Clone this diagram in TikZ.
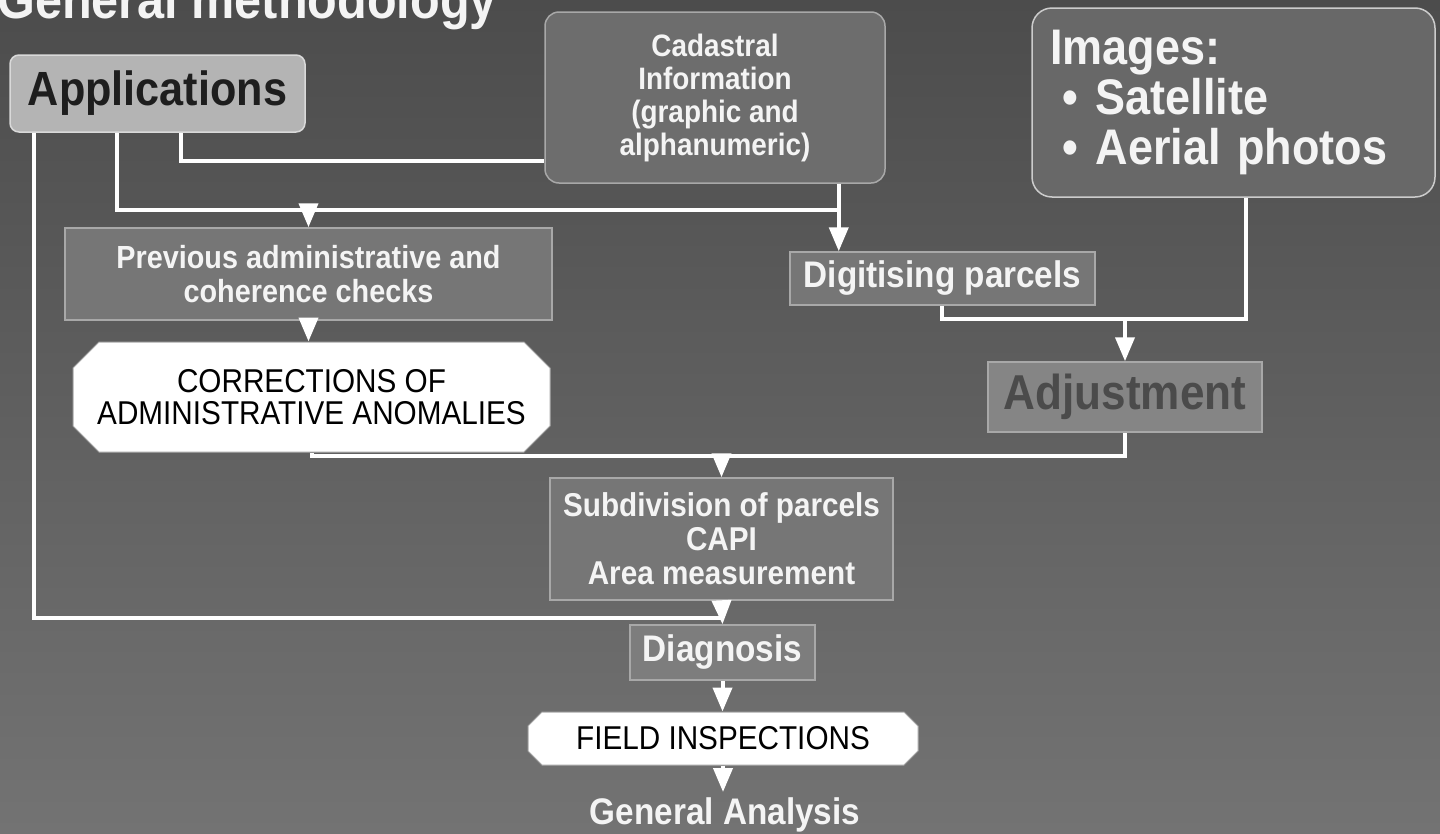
\documentclass[tikz,border=0pt]{standalone}
\usepackage{fontspec}
\setmainfont{Liberation Sans}[FakeStretch=0.9]
\usetikzlibrary{arrows.meta,shapes.misc}
\definecolor{bgtop}{HTML}{4C4C4C}
\definecolor{bgbot}{HTML}{737373}
\definecolor{boxfill}{HTML}{767676}
\definecolor{boxline}{HTML}{A8A8A8}
\definecolor{appfill}{HTML}{B4B4B4}
\definecolor{adjfill}{HTML}{858585}
\definecolor{darktext}{HTML}{1E1E1E}
\definecolor{txt}{HTML}{F4F4F4}
\tikzset{
  box/.style={draw=boxline, line width=1.5pt, fill=boxfill, text=txt, font=\bfseries, align=center, inner sep=0pt},
  rbox/.style={box, rounded corners=14pt},
  wbox/.style={chamfered rectangle, draw=gray!70, line width=1pt, fill=white, text=black, align=center, inner sep=0pt},
  conn/.style={draw=white, line width=4pt},
  arr/.style={conn, -{Triangle[width=19pt,length=24pt]}}
}
\begin{document}
\begin{tikzpicture}[x=1pt,y=-1pt]
\useasboundingbox (0,0) rectangle (1440,833);
\shade[top color=bgtop, bottom color=bgbot] (0,0) rectangle (1440,833);

\node[anchor=base west, text=txt, font=\bfseries\fontsize{54}{54}\selectfont, inner sep=0pt] (title) at (-3,18) {General methodology};

\node[rbox, fill=appfill, draw=white!85!black, text=darktext, rounded corners=9pt, minimum width=295pt, minimum height=77pt, font=\bfseries\fontsize{48}{48}\selectfont] (app) at (157.5,93.5) {Applications};

\node[rbox, fill=boxfill!92!black, minimum width=340pt, minimum height=171pt, font=\bfseries\fontsize{31}{33}\selectfont] (cad) at (715,97.5) {Cadastral\\Information\\(graphic and\\alphanumeric)};

\node[rbox, fill=boxfill!88!black, draw=white!80!black, rounded corners=20pt, minimum width=403pt, minimum height=189pt, text width=367pt, align=left, font=\bfseries\fontsize{50}{50}\selectfont] (img) at (1233.5,102.5) {Images:\\\hspace*{12pt}\textbullet\hspace{18pt}Satellite\\\hspace*{12pt}\textbullet\hspace{18pt}Aerial photos};

\node[box, minimum width=487pt, minimum height=92pt, font=\bfseries\fontsize{32}{34}\selectfont] (prev) at (308.5,274) {Previous administrative and\\coherence checks};

\node[box, minimum width=305pt, minimum height=53pt, font=\bfseries\fontsize{37}{37}\selectfont] (dig) at (942.5,278.5) {Digitising parcels};

\node[wbox, chamfered rectangle xsep=13pt, chamfered rectangle ysep=13pt, minimum width=477pt, minimum height=110pt, font=\fontsize{33}{32}\selectfont] (cor) at (311.5,397) {CORRECTIONS OF\\ADMINISTRATIVE ANOMALIES};

\node[box, fill=adjfill, text=darktext!80!white, minimum width=274pt, minimum height=70pt, font=\bfseries\fontsize{49}{49}\selectfont] (adj) at (1125,397) {Adjustment};

\node[box, minimum width=343pt, minimum height=122pt, font=\bfseries\fontsize{33}{34}\selectfont] (sub) at (721.5,539) {Subdivision of parcels\\CAPI\\Area measurement};

\node[box, fill=boxfill!95!white, minimum width=185pt, minimum height=55pt, font=\bfseries\fontsize{37}{37}\selectfont] (dia) at (722.5,652.5) {Diagnosis};

\node[wbox, chamfered rectangle xsep=7pt, chamfered rectangle ysep=7pt, minimum width=390pt, minimum height=53pt, font=\fontsize{33}{33}\selectfont] (fld) at (723,738.5) {FIELD INSPECTIONS};

\node[text=txt, font=\bfseries\fontsize{37}{37}\selectfont, inner sep=0pt, minimum height=46pt, anchor=north] (gen) at (725,792) {General Analysis};

% junction coordinates
\coordinate (a1) at ([xshift=25pt]app.south west);
\coordinate (a2) at ([xshift=108pt]app.south west);
\coordinate (a3) at ([xshift=172pt]app.south west);
\coordinate (c1) at ([xshift=-47pt]cad.south east);
\coordinate (c2) at ([yshift=23pt]cad.south west);
\coordinate (i1) at ([xshift=-190pt]img.south east);
\coordinate (d1) at ([xshift=153pt]dig.south west);
\coordinate (r1) at (0,210);
\coordinate (r2) at (0,319);
\coordinate (r4) at (0,456);
\coordinate (r3) at (0,618);

% connectors
\draw[conn] (a3) |- (c2);
\draw[conn] (a2) |- (c1 |- r1);
\draw[arr] (r1 -| prev.north) -- (prev.north);
\draw[arr] (c1) -- (c1 |- dig.north);
\draw[conn] (i1) |- (d1 |- r2) -- (d1);
\draw[arr] (r2 -| adj.north) -- (adj.north);
\draw[arr] (prev.south) -- (prev.south |- cor.north);
\draw[conn] (cor.south) |- (adj.south |- r4) -- (adj.south);
\draw[arr] (r4 -| sub.north) -- (sub.north);
\draw[conn] (a1) |- (r3 -| sub.south);
\draw[arr] (sub.south) -- (dia.north);
\draw[arr] (dia.south) -- (dia.south |- fld.north);
\draw[arr] (fld.south) -- (fld.south |- gen.north);
\end{tikzpicture}
\end{document}
